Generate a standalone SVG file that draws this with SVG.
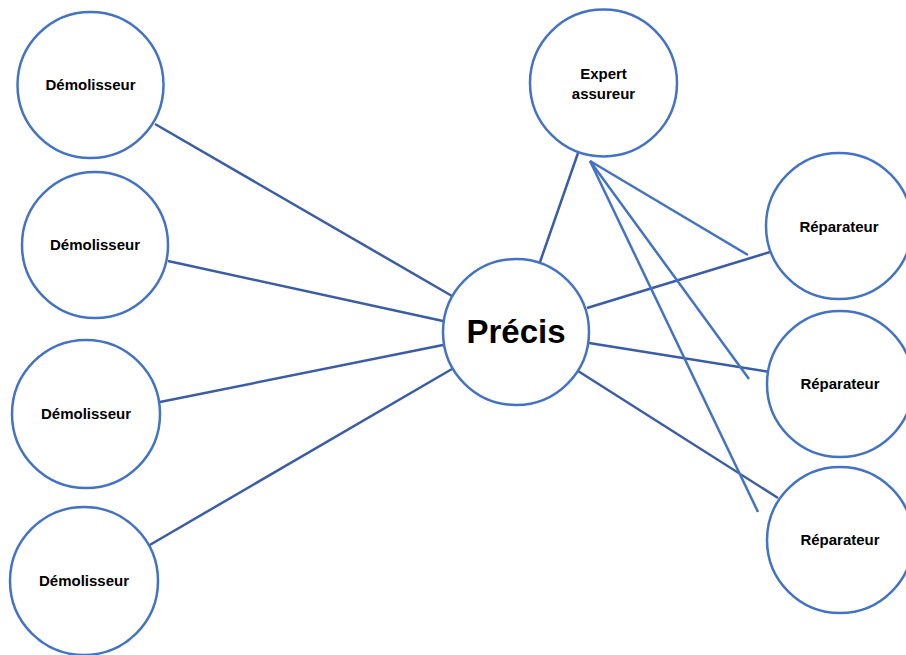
<svg xmlns="http://www.w3.org/2000/svg" width="906" height="655" viewBox="0 0 906 655">
<style>
.n{fill:#fff;stroke:#4472C4;stroke-width:2.5}
.t{font-family:"Liberation Sans",Arial,sans-serif;font-weight:bold;font-size:15px;fill:#000;text-anchor:middle}
.big{font-size:33px}
.e1{stroke:#3A5DA6;stroke-width:2.5;fill:none}
.e2{stroke:#4472C4;stroke-width:2.5;fill:none}
</style>
<rect width="906" height="655" fill="#fff"/>
<g id="connectors">
<line class="e1" x1="155" y1="124" x2="452" y2="296"/>
<line class="e1" x1="168" y1="261" x2="443" y2="321"/>
<line class="e1" x1="160" y1="402" x2="443" y2="345"/>
<line class="e1" x1="148" y1="546" x2="452" y2="369"/>
<line class="e1" x1="540" y1="262" x2="578" y2="153"/>
<line class="e1" x1="587" y1="308" x2="770" y2="252"/>
<line class="e1" x1="589" y1="343" x2="770" y2="372"/>
<line class="e1" x1="578" y1="371" x2="778" y2="498"/>
<line class="e2" x1="590" y1="161" x2="748" y2="255"/>
<line class="e2" x1="590" y1="161" x2="749" y2="379"/>
<line class="e2" x1="590" y1="161" x2="758" y2="512"/>
</g>
<g id="demolisseur1"><circle class="n" cx="90.5" cy="85" r="73"/><text class="t" x="90.5" y="90">Démolisseur</text></g>
<g id="demolisseur2"><circle class="n" cx="95" cy="245" r="73"/><text class="t" x="95" y="250">Démolisseur</text></g>
<g id="demolisseur3"><circle class="n" cx="86" cy="414" r="74"/><text class="t" x="86" y="419">Démolisseur</text></g>
<g id="demolisseur4"><circle class="n" cx="84" cy="581" r="74"/><text class="t" x="84" y="586">Démolisseur</text></g>
<g id="precis"><circle class="n" cx="516" cy="332" r="73"/><text class="t big" x="516" y="343">Précis</text></g>
<g id="expert"><circle class="n" cx="603.5" cy="83" r="73.5"/><text class="t" x="603.5" y="79">Expert</text><text class="t" x="603.5" y="99">assureur</text></g>
<g id="reparateur1"><circle class="n" cx="839" cy="226" r="73"/><text class="t" x="839" y="232">Réparateur</text></g>
<g id="reparateur2"><circle class="n" cx="840" cy="384" r="73"/><text class="t" x="840" y="389">Réparateur</text></g>
<g id="reparateur3"><circle class="n" cx="840" cy="540" r="73"/><text class="t" x="840" y="545">Réparateur</text></g>
</svg>
